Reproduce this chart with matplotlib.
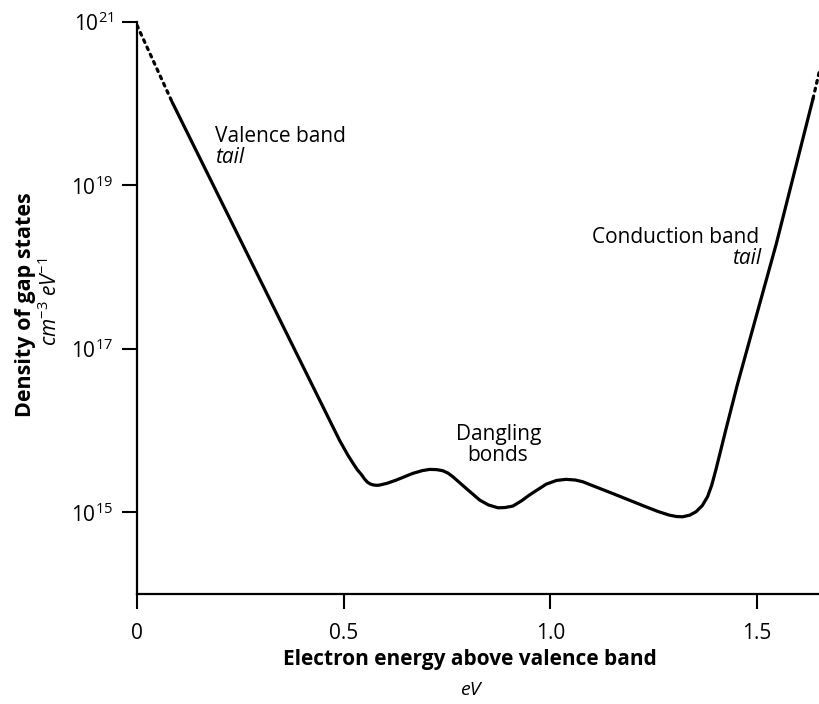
import matplotlib
matplotlib.use("Agg")
import matplotlib.pyplot as plt
import numpy as np

plt.rcParams['font.family'] = ['Open Sans', 'DejaVu Sans']
plt.rcParams['mathtext.fontset'] = 'custom'
plt.rcParams['mathtext.rm'] = 'Open Sans'
plt.rcParams['mathtext.it'] = 'Open Sans:italic'
plt.rcParams['mathtext.bf'] = 'Open Sans:bold'

# Dotted extrapolations of the band tails (energy eV, log10 density)
valence_dot_E = [0.0, 0.085]
valence_dot_logN = [20.96, 20.02]
conduction_dot_E = [1.635, 1.652]
conduction_dot_logN = [20.06, 20.43]

# Solid curve: energy (eV) and log10 density (cm^-3 eV^-1)
energy = [0.085, 0.49, 0.51, 0.5225, 0.533, 0.543, 0.550, 0.557, 0.564, 0.571,
          0.580, 0.587, 0.605, 0.627, 0.647, 0.667, 0.690, 0.708, 0.725, 0.740,
          0.752, 0.764, 0.796, 0.829, 0.850, 0.873, 0.890, 0.909, 0.930, 0.949,
          0.990, 1.015, 1.038, 1.060, 1.078, 1.110, 1.150, 1.190, 1.231, 1.260,
          1.287, 1.305, 1.320, 1.337, 1.352, 1.367, 1.380, 1.390, 1.400, 1.412,
          1.424, 1.452, 1.500, 1.546, 1.590, 1.635]
log_density = [20.02, 15.88, 15.70, 15.60, 15.52, 15.46, 15.41, 15.37, 15.347, 15.335,
               15.33, 15.333, 15.355, 15.394, 15.435, 15.476, 15.51, 15.525, 15.522, 15.508,
               15.48, 15.435, 15.293, 15.149, 15.09, 15.055, 15.058, 15.076, 15.14, 15.211,
               15.345, 15.39, 15.403, 15.395, 15.374, 15.31, 15.231, 15.15, 15.067, 15.01,
               14.966, 14.948, 14.945, 14.965, 15.006, 15.08, 15.19, 15.33, 15.517, 15.76,
               16.006, 16.56, 17.44, 18.28, 19.16, 20.06]

xticks = [0, 0.5, 1.0, 1.5]
xtick_labels = ['0', '0.5', '1.0', '1.5']
yticks_exp = [15, 17, 19, 21]

fig = plt.figure(figsize=(8.2, 7.04), dpi=100)
ax = fig.add_axes([137/820, 110/704, 1 - 137/820, (594-22)/704])

lw = 2.3
ax.plot(energy, 10**np.array(log_density), color='black', lw=lw,
        solid_capstyle='round', solid_joinstyle='round')
ax.plot(valence_dot_E, 10**np.array(valence_dot_logN), color='black', lw=lw,
        ls=(0, (0.9, 1.6)), dash_capstyle='round')
ax.plot(conduction_dot_E, 10**np.array(conduction_dot_logN), color='black', lw=lw,
        ls=(0, (0.9, 1.6)), dash_capstyle='round')

ax.set_yscale('log')
ax.set_xlim(0, 1.652)
ax.set_ylim(1e14, 1e21)
ax.spines['top'].set_visible(False)
ax.spines['right'].set_visible(False)
for s in ['left', 'bottom']:
    ax.spines[s].set_linewidth(1.6)

ax.set_xticks(xticks)
ax.set_xticklabels(xtick_labels)
ax.set_yticks([10.0**e for e in yticks_exp])
ax.set_yticklabels([r'$\mathregular{10^{%d}}$' % e for e in yticks_exp])
ax.yaxis.set_minor_locator(matplotlib.ticker.NullLocator())
ax.tick_params(axis='x', direction='out', length=11, width=1.5, labelsize=15, pad=10)
ax.tick_params(axis='y', direction='out', length=11, width=1.5, labelsize=15, pad=6)

ann = 15
ax.text(0.1885, 10**19.531, 'Valence band', fontsize=ann, ha='left', va='baseline')
ax.text(0.1885, 10**19.274, 'tail', fontsize=ann, style='italic', ha='left', va='baseline')
ax.text(1.505, 10**18.295, 'Conduction band', fontsize=ann, ha='right', va='baseline')
ax.text(1.510, 10**18.04, 'tail', fontsize=ann, style='italic', ha='right', va='baseline')
ax.text(0.876, 10**15.884, 'Dangling', fontsize=ann, ha='center', va='baseline')
ax.text(0.873, 10**15.627, 'bonds', fontsize=ann, ha='center', va='baseline')

fig.text(26/820, 1 - 305/704, 'Density of gap states', rotation=90, fontsize=15.5,
         fontweight='bold', ha='center', va='center')
fig.text(50/820, 1 - 302/704, r'cm$^{-3}$ eV$^{-1}$', rotation=90, fontsize=15,
         style='italic', ha='center', va='center')
fig.text(470/820, 1 - 659/704, 'Electron energy above valence band', fontsize=15,
         fontweight='bold', ha='center', va='center')
fig.text(470/820, 1 - 690/704, 'eV', fontsize=14, style='italic', ha='center', va='center')

fig.savefig('out.png', dpi=100)
